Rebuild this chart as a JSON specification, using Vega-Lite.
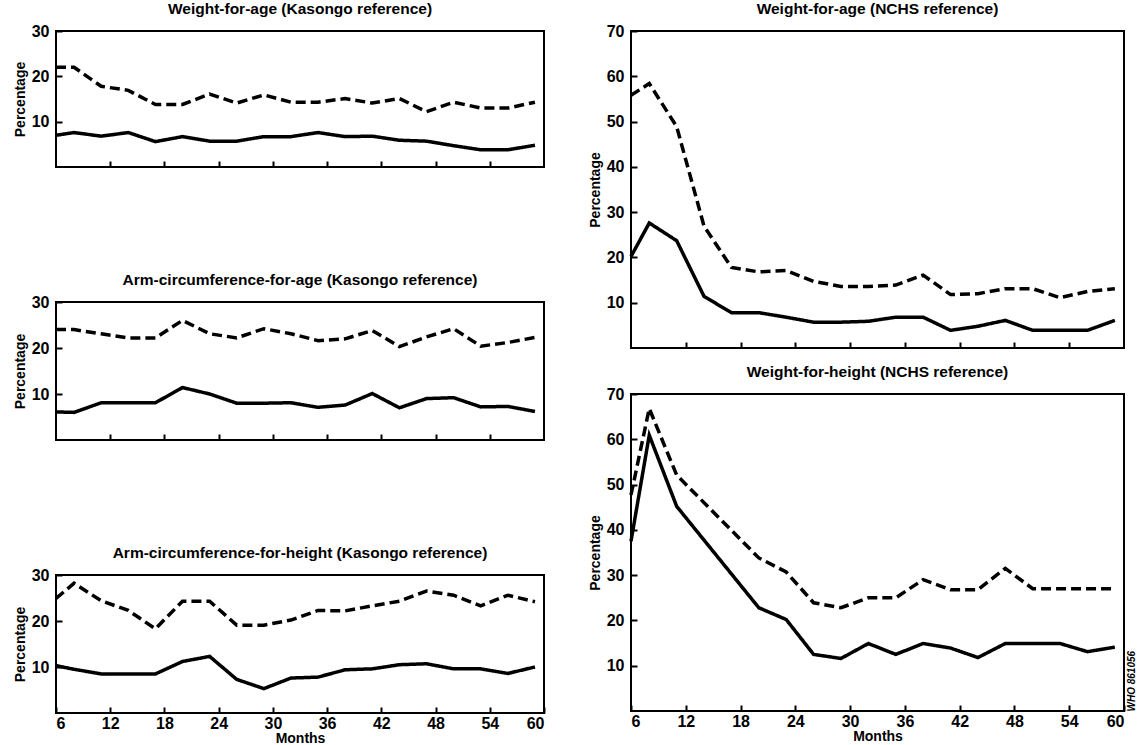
{
  "$schema": "https://vega.github.io/schema/vega-lite/v6.json",
  "padding": {"left": 12, "top": 0, "right": 0, "bottom": 0},
  "background": "white",
  "config": {
    "font": "Liberation Sans",
    "view": {"stroke": "black", "strokeWidth": 2},
    "title": {"font": "Liberation Sans", "fontSize": 15.5, "fontWeight": "bold", "color": "black", "offset": 6},
    "axis": {
      "labelFont": "Liberation Sans", "labelFontSize": 16, "labelFontWeight": "bold", "labelColor": "black",
      "titleFont": "Liberation Sans", "titleFontSize": 14, "titleFontWeight": "bold", "titleColor": "black",
      "grid": false, "domain": false, "tickColor": "black", "tickWidth": 2, "tickSize": -6
    }
  },
  "datasets": {
    "d": [
      {"panel": "wak", "series": "dashed", "month": 6, "value": 22},
      {"panel": "wak", "series": "dashed", "month": 8, "value": 22},
      {"panel": "wak", "series": "dashed", "month": 11, "value": 17.8},
      {"panel": "wak", "series": "dashed", "month": 14, "value": 16.9},
      {"panel": "wak", "series": "dashed", "month": 17, "value": 13.8},
      {"panel": "wak", "series": "dashed", "month": 20, "value": 13.8},
      {"panel": "wak", "series": "dashed", "month": 23, "value": 16.1},
      {"panel": "wak", "series": "dashed", "month": 26, "value": 14.1},
      {"panel": "wak", "series": "dashed", "month": 29, "value": 15.9},
      {"panel": "wak", "series": "dashed", "month": 32, "value": 14.3},
      {"panel": "wak", "series": "dashed", "month": 35, "value": 14.3},
      {"panel": "wak", "series": "dashed", "month": 38, "value": 15.1},
      {"panel": "wak", "series": "dashed", "month": 41, "value": 14.1},
      {"panel": "wak", "series": "dashed", "month": 44, "value": 15.1},
      {"panel": "wak", "series": "dashed", "month": 47, "value": 12.2},
      {"panel": "wak", "series": "dashed", "month": 50, "value": 14.3},
      {"panel": "wak", "series": "dashed", "month": 53, "value": 13},
      {"panel": "wak", "series": "dashed", "month": 56, "value": 13},
      {"panel": "wak", "series": "dashed", "month": 59, "value": 14.3},
      {"panel": "wak", "series": "solid", "month": 6, "value": 7},
      {"panel": "wak", "series": "solid", "month": 8, "value": 7.6},
      {"panel": "wak", "series": "solid", "month": 11, "value": 6.8},
      {"panel": "wak", "series": "solid", "month": 14, "value": 7.6},
      {"panel": "wak", "series": "solid", "month": 17, "value": 5.6},
      {"panel": "wak", "series": "solid", "month": 20, "value": 6.7},
      {"panel": "wak", "series": "solid", "month": 23, "value": 5.7},
      {"panel": "wak", "series": "solid", "month": 26, "value": 5.7},
      {"panel": "wak", "series": "solid", "month": 29, "value": 6.7},
      {"panel": "wak", "series": "solid", "month": 32, "value": 6.7},
      {"panel": "wak", "series": "solid", "month": 35, "value": 7.6},
      {"panel": "wak", "series": "solid", "month": 38, "value": 6.7},
      {"panel": "wak", "series": "solid", "month": 41, "value": 6.8},
      {"panel": "wak", "series": "solid", "month": 44, "value": 5.9},
      {"panel": "wak", "series": "solid", "month": 47, "value": 5.7},
      {"panel": "wak", "series": "solid", "month": 50, "value": 4.7},
      {"panel": "wak", "series": "solid", "month": 53, "value": 3.8},
      {"panel": "wak", "series": "solid", "month": 56, "value": 3.8},
      {"panel": "wak", "series": "solid", "month": 59, "value": 4.8},

      {"panel": "aca", "series": "dashed", "month": 6, "value": 24},
      {"panel": "aca", "series": "dashed", "month": 8, "value": 24},
      {"panel": "aca", "series": "dashed", "month": 11, "value": 23.1},
      {"panel": "aca", "series": "dashed", "month": 14, "value": 22.2},
      {"panel": "aca", "series": "dashed", "month": 17, "value": 22.2},
      {"panel": "aca", "series": "dashed", "month": 20, "value": 26},
      {"panel": "aca", "series": "dashed", "month": 23, "value": 23.1},
      {"panel": "aca", "series": "dashed", "month": 26, "value": 22.2},
      {"panel": "aca", "series": "dashed", "month": 29, "value": 24.2},
      {"panel": "aca", "series": "dashed", "month": 32, "value": 23.1},
      {"panel": "aca", "series": "dashed", "month": 35, "value": 21.6},
      {"panel": "aca", "series": "dashed", "month": 38, "value": 22},
      {"panel": "aca", "series": "dashed", "month": 41, "value": 23.8},
      {"panel": "aca", "series": "dashed", "month": 44, "value": 20.3},
      {"panel": "aca", "series": "dashed", "month": 47, "value": 22.4},
      {"panel": "aca", "series": "dashed", "month": 50, "value": 24.2},
      {"panel": "aca", "series": "dashed", "month": 53, "value": 20.4},
      {"panel": "aca", "series": "dashed", "month": 56, "value": 21.2},
      {"panel": "aca", "series": "dashed", "month": 59, "value": 22.3},
      {"panel": "aca", "series": "solid", "month": 6, "value": 6.1},
      {"panel": "aca", "series": "solid", "month": 8, "value": 6},
      {"panel": "aca", "series": "solid", "month": 11, "value": 8.1},
      {"panel": "aca", "series": "solid", "month": 14, "value": 8.1},
      {"panel": "aca", "series": "solid", "month": 17, "value": 8.1},
      {"panel": "aca", "series": "solid", "month": 20, "value": 11.4},
      {"panel": "aca", "series": "solid", "month": 23, "value": 10},
      {"panel": "aca", "series": "solid", "month": 26, "value": 8},
      {"panel": "aca", "series": "solid", "month": 29, "value": 8},
      {"panel": "aca", "series": "solid", "month": 32, "value": 8.1},
      {"panel": "aca", "series": "solid", "month": 35, "value": 7.1},
      {"panel": "aca", "series": "solid", "month": 38, "value": 7.6},
      {"panel": "aca", "series": "solid", "month": 41, "value": 10.1},
      {"panel": "aca", "series": "solid", "month": 44, "value": 7},
      {"panel": "aca", "series": "solid", "month": 47, "value": 9},
      {"panel": "aca", "series": "solid", "month": 50, "value": 9.2},
      {"panel": "aca", "series": "solid", "month": 53, "value": 7.2},
      {"panel": "aca", "series": "solid", "month": 56, "value": 7.3},
      {"panel": "aca", "series": "solid", "month": 59, "value": 6.2},

      {"panel": "ach", "series": "dashed", "month": 6, "value": 24.9},
      {"panel": "ach", "series": "dashed", "month": 8, "value": 28.2},
      {"panel": "ach", "series": "dashed", "month": 11, "value": 24.4},
      {"panel": "ach", "series": "dashed", "month": 14, "value": 22.3},
      {"panel": "ach", "series": "dashed", "month": 17, "value": 18.3},
      {"panel": "ach", "series": "dashed", "month": 20, "value": 24.3},
      {"panel": "ach", "series": "dashed", "month": 23, "value": 24.3},
      {"panel": "ach", "series": "dashed", "month": 26, "value": 19.1},
      {"panel": "ach", "series": "dashed", "month": 29, "value": 19.1},
      {"panel": "ach", "series": "dashed", "month": 32, "value": 20.2},
      {"panel": "ach", "series": "dashed", "month": 35, "value": 22.3},
      {"panel": "ach", "series": "dashed", "month": 38, "value": 22.2},
      {"panel": "ach", "series": "dashed", "month": 41, "value": 23.3},
      {"panel": "ach", "series": "dashed", "month": 44, "value": 24.3},
      {"panel": "ach", "series": "dashed", "month": 47, "value": 26.5},
      {"panel": "ach", "series": "dashed", "month": 50, "value": 25.6},
      {"panel": "ach", "series": "dashed", "month": 53, "value": 23.3},
      {"panel": "ach", "series": "dashed", "month": 56, "value": 25.6},
      {"panel": "ach", "series": "dashed", "month": 59, "value": 24.2},
      {"panel": "ach", "series": "solid", "month": 6, "value": 10.3},
      {"panel": "ach", "series": "solid", "month": 8, "value": 9.5},
      {"panel": "ach", "series": "solid", "month": 11, "value": 8.5},
      {"panel": "ach", "series": "solid", "month": 14, "value": 8.5},
      {"panel": "ach", "series": "solid", "month": 17, "value": 8.5},
      {"panel": "ach", "series": "solid", "month": 20, "value": 11.2},
      {"panel": "ach", "series": "solid", "month": 23, "value": 12.3},
      {"panel": "ach", "series": "solid", "month": 26, "value": 7.3},
      {"panel": "ach", "series": "solid", "month": 29, "value": 5.3},
      {"panel": "ach", "series": "solid", "month": 32, "value": 7.6},
      {"panel": "ach", "series": "solid", "month": 35, "value": 7.8},
      {"panel": "ach", "series": "solid", "month": 38, "value": 9.4},
      {"panel": "ach", "series": "solid", "month": 41, "value": 9.6},
      {"panel": "ach", "series": "solid", "month": 44, "value": 10.5},
      {"panel": "ach", "series": "solid", "month": 47, "value": 10.7},
      {"panel": "ach", "series": "solid", "month": 50, "value": 9.6},
      {"panel": "ach", "series": "solid", "month": 53, "value": 9.6},
      {"panel": "ach", "series": "solid", "month": 56, "value": 8.6},
      {"panel": "ach", "series": "solid", "month": 59, "value": 10},

      {"panel": "wan", "series": "dashed", "month": 6, "value": 55.8},
      {"panel": "wan", "series": "dashed", "month": 8, "value": 58.4},
      {"panel": "wan", "series": "dashed", "month": 11, "value": 48.9},
      {"panel": "wan", "series": "dashed", "month": 14, "value": 26.9},
      {"panel": "wan", "series": "dashed", "month": 17, "value": 17.8},
      {"panel": "wan", "series": "dashed", "month": 20, "value": 16.8},
      {"panel": "wan", "series": "dashed", "month": 23, "value": 17.1},
      {"panel": "wan", "series": "dashed", "month": 26, "value": 14.7},
      {"panel": "wan", "series": "dashed", "month": 29, "value": 13.6},
      {"panel": "wan", "series": "dashed", "month": 32, "value": 13.6},
      {"panel": "wan", "series": "dashed", "month": 35, "value": 13.9},
      {"panel": "wan", "series": "dashed", "month": 38, "value": 16.1},
      {"panel": "wan", "series": "dashed", "month": 41, "value": 11.8},
      {"panel": "wan", "series": "dashed", "month": 44, "value": 12},
      {"panel": "wan", "series": "dashed", "month": 47, "value": 13.1},
      {"panel": "wan", "series": "dashed", "month": 50, "value": 13.1},
      {"panel": "wan", "series": "dashed", "month": 53, "value": 11.1},
      {"panel": "wan", "series": "dashed", "month": 56, "value": 12.5},
      {"panel": "wan", "series": "dashed", "month": 59, "value": 13.1},
      {"panel": "wan", "series": "solid", "month": 6, "value": 20.2},
      {"panel": "wan", "series": "solid", "month": 8, "value": 27.6},
      {"panel": "wan", "series": "solid", "month": 11, "value": 23.7},
      {"panel": "wan", "series": "solid", "month": 14, "value": 11.4},
      {"panel": "wan", "series": "solid", "month": 17, "value": 7.8},
      {"panel": "wan", "series": "solid", "month": 20, "value": 7.8},
      {"panel": "wan", "series": "solid", "month": 23, "value": 6.8},
      {"panel": "wan", "series": "solid", "month": 26, "value": 5.7},
      {"panel": "wan", "series": "solid", "month": 29, "value": 5.7},
      {"panel": "wan", "series": "solid", "month": 32, "value": 5.9},
      {"panel": "wan", "series": "solid", "month": 35, "value": 6.8},
      {"panel": "wan", "series": "solid", "month": 38, "value": 6.8},
      {"panel": "wan", "series": "solid", "month": 41, "value": 3.9},
      {"panel": "wan", "series": "solid", "month": 44, "value": 4.8},
      {"panel": "wan", "series": "solid", "month": 47, "value": 6.1},
      {"panel": "wan", "series": "solid", "month": 50, "value": 3.9},
      {"panel": "wan", "series": "solid", "month": 53, "value": 3.9},
      {"panel": "wan", "series": "solid", "month": 56, "value": 3.9},
      {"panel": "wan", "series": "solid", "month": 59, "value": 6.1},

      {"panel": "wh", "series": "dashed", "month": 6, "value": 47.7},
      {"panel": "wh", "series": "dashed", "month": 8, "value": 66.8},
      {"panel": "wh", "series": "dashed", "month": 11, "value": 52.1},
      {"panel": "wh", "series": "dashed", "month": 20, "value": 33.8},
      {"panel": "wh", "series": "dashed", "month": 23, "value": 30.7},
      {"panel": "wh", "series": "dashed", "month": 26, "value": 23.9},
      {"panel": "wh", "series": "dashed", "month": 29, "value": 22.8},
      {"panel": "wh", "series": "dashed", "month": 32, "value": 25},
      {"panel": "wh", "series": "dashed", "month": 35, "value": 25},
      {"panel": "wh", "series": "dashed", "month": 38, "value": 29},
      {"panel": "wh", "series": "dashed", "month": 41, "value": 26.8},
      {"panel": "wh", "series": "dashed", "month": 44, "value": 26.8},
      {"panel": "wh", "series": "dashed", "month": 47, "value": 31.5},
      {"panel": "wh", "series": "dashed", "month": 50, "value": 27},
      {"panel": "wh", "series": "dashed", "month": 53, "value": 27},
      {"panel": "wh", "series": "dashed", "month": 56, "value": 27},
      {"panel": "wh", "series": "dashed", "month": 59, "value": 27},
      {"panel": "wh", "series": "solid", "month": 6, "value": 37.5},
      {"panel": "wh", "series": "solid", "month": 8, "value": 60.9},
      {"panel": "wh", "series": "solid", "month": 11, "value": 45.2},
      {"panel": "wh", "series": "solid", "month": 20, "value": 22.8},
      {"panel": "wh", "series": "solid", "month": 23, "value": 20.2},
      {"panel": "wh", "series": "solid", "month": 26, "value": 12.5},
      {"panel": "wh", "series": "solid", "month": 29, "value": 11.6},
      {"panel": "wh", "series": "solid", "month": 32, "value": 14.9},
      {"panel": "wh", "series": "solid", "month": 35, "value": 12.5},
      {"panel": "wh", "series": "solid", "month": 38, "value": 14.9},
      {"panel": "wh", "series": "solid", "month": 41, "value": 13.9},
      {"panel": "wh", "series": "solid", "month": 44, "value": 11.8},
      {"panel": "wh", "series": "solid", "month": 47, "value": 14.9},
      {"panel": "wh", "series": "solid", "month": 50, "value": 14.9},
      {"panel": "wh", "series": "solid", "month": 53, "value": 14.9},
      {"panel": "wh", "series": "solid", "month": 56, "value": 13.1},
      {"panel": "wh", "series": "solid", "month": 59, "value": 14.1}
    ]
  },
  "data": {"name": "d"},
  "hconcat": [
    {
      "spacing": 102,
      "vconcat": [
        {
          "title": "Weight-for-age (Kasongo reference)",
          "width": 488, "height": 136,
          "transform": [{"filter": "datum.panel === 'wak'"}],
          "mark": {"type": "line", "color": "black", "strokeWidth": 3.5},
          "encoding": {
            "x": {"field": "month", "type": "quantitative", "scale": {"domain": [6, 60], "nice": false, "zero": false},
                  "axis": {"values": [12, 18, 24, 30, 36, 42, 48, 54], "labels": false, "title": null}},
            "y": {"field": "value", "type": "quantitative", "scale": {"domain": [0, 30], "nice": false},
                  "axis": {"values": [10, 20, 30], "title": "Percentage", "labelPadding": 13, "titlePadding": 4}},
            "strokeDash": {"field": "series", "type": "nominal", "scale": {"domain": ["dashed", "solid"], "range": [[10, 5], [1, 0]]}, "legend": null}
          }
        },
        {
          "title": "Arm-circumference-for-age (Kasongo reference)",
          "width": 488, "height": 138,
          "transform": [{"filter": "datum.panel === 'aca'"}],
          "mark": {"type": "line", "color": "black", "strokeWidth": 3.5},
          "encoding": {
            "x": {"field": "month", "type": "quantitative", "scale": {"domain": [6, 60], "nice": false, "zero": false},
                  "axis": {"values": [12, 18, 24, 30, 36, 42, 48, 54], "labels": false, "title": null}},
            "y": {"field": "value", "type": "quantitative", "scale": {"domain": [0, 30], "nice": false},
                  "axis": {"values": [10, 20, 30], "title": "Percentage", "labelPadding": 13, "titlePadding": 4}},
            "strokeDash": {"field": "series", "type": "nominal", "scale": {"domain": ["dashed", "solid"], "range": [[10, 5], [1, 0]]}, "legend": null}
          }
        },
        {
          "title": "Arm-circumference-for-height (Kasongo reference)",
          "width": 488, "height": 138,
          "transform": [{"filter": "datum.panel === 'ach'"}],
          "mark": {"type": "line", "color": "black", "strokeWidth": 3.5},
          "encoding": {
            "x": {"field": "month", "type": "quantitative", "scale": {"domain": [6, 60], "nice": false, "zero": false},
                  "axis": {"values": [6, 12, 18, 24, 30, 36, 42, 48, 54, 60], "title": "Months", "labelPadding": 8, "titlePadding": 0}},
            "y": {"field": "value", "type": "quantitative", "scale": {"domain": [0, 30], "nice": false},
                  "axis": {"values": [10, 20, 30], "title": "Percentage", "labelPadding": 13, "titlePadding": 4}},
            "strokeDash": {"field": "series", "type": "nominal", "scale": {"domain": ["dashed", "solid"], "range": [[10, 5], [1, 0]]}, "legend": null}
          }
        }
      ]
    },
    {
      "spacing": 13,
      "vconcat": [
        {
          "title": "Weight-for-age (NCHS reference)",
          "width": 493, "height": 317,
          "transform": [{"filter": "datum.panel === 'wan'"}],
          "mark": {"type": "line", "color": "black", "strokeWidth": 3.5},
          "encoding": {
            "x": {"field": "month", "type": "quantitative", "scale": {"domain": [6, 60], "nice": false, "zero": false},
                  "axis": {"values": [12, 18, 24, 30, 36, 42, 48, 54], "labels": false, "title": null}},
            "y": {"field": "value", "type": "quantitative", "scale": {"domain": [0, 70], "nice": false},
                  "axis": {"values": [10, 20, 30, 40, 50, 60, 70], "title": "Percentage", "labelPadding": 13, "titlePadding": 4}},
            "strokeDash": {"field": "series", "type": "nominal", "scale": {"domain": ["dashed", "solid"], "range": [[10, 5], [1, 0]]}, "legend": null}
          }
        },
        {
          "title": "Weight-for-height (NCHS reference)",
          "width": 493, "height": 317,
          "transform": [{"filter": "datum.panel === 'wh'"}],
          "layer": [
            {
              "mark": {"type": "line", "color": "black", "strokeWidth": 3.5},
              "encoding": {
                "x": {"field": "month", "type": "quantitative", "scale": {"domain": [6, 60], "nice": false, "zero": false},
                      "axis": {"values": [6, 12, 18, 24, 30, 36, 42, 48, 54, 60], "title": "Months", "labelPadding": 8, "titlePadding": 0}},
                "y": {"field": "value", "type": "quantitative", "scale": {"domain": [0, 70], "nice": false},
                      "axis": {"values": [10, 20, 30, 40, 50, 60, 70], "title": "Percentage", "labelPadding": 13, "titlePadding": 4}},
                "strokeDash": {"field": "series", "type": "nominal", "scale": {"domain": ["dashed", "solid"], "range": [[10, 5], [1, 0]]}, "legend": null}
              }
            },
            {
              "mark": {"type": "line", "opacity": 0},
              "encoding": {
                "x": {"field": "month", "type": "quantitative"},
                "y": {"field": "value", "type": "quantitative",
                      "axis": {"orient": "right", "labels": false, "ticks": false, "domain": false, "title": "WHO 861056",
                               "titleAngle": 270, "titleAnchor": "start", "titleFontSize": 10, "titleFontStyle": "italic", "titlePadding": 12}},
                "detail": {"field": "series", "type": "nominal"}
              }
            }
          ],
          "resolve": {"axis": {"y": "independent"}}
        }
      ]
    }
  ],
  "spacing": 41
}
